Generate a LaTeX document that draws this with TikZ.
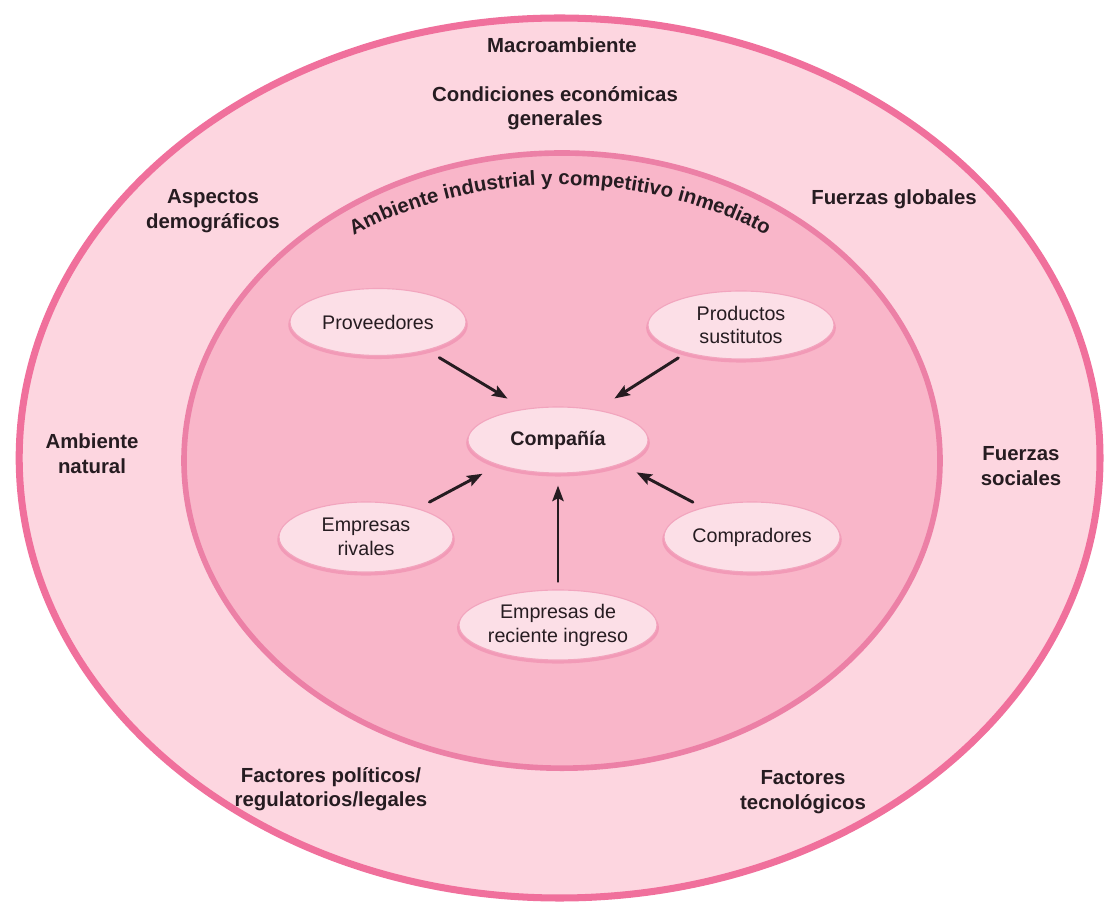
\documentclass[tikz,border=0pt]{standalone}
\usepackage{fontspec}
\setmainfont{Liberation Sans}
\usepackage{tikz}
\usetikzlibrary{arrows.meta,shapes.geometric,decorations.text,shadows}
\definecolor{macrofill}{RGB}{253,214,224}
\definecolor{macroline}{RGB}{240,112,156}
\definecolor{indfill}{RGB}{249,182,201}
\definecolor{indline}{RGB}{236,128,166}
\definecolor{bubfill}{RGB}{252,223,231}
\definecolor{bubline}{RGB}{242,165,190}
\definecolor{ink}{RGB}{38,28,33}
\tikzset{
  every picture/.style={line join=round, line cap=round, >=Stealth},
  lbl/.style={font=\fontsize{14.5}{17.5}\selectfont\bfseries, text=ink, align=center, inner sep=0pt},
  force/.style={ellipse, fill=bubfill, draw=bubline, line width=0.8pt, font=\fontsize{14}{17}\selectfont, text=ink, align=center, inner sep=0pt,
    drop shadow={shadow scale=1.02, shadow xshift=0pt, shadow yshift=-2pt, fill=indline, opacity=0.5}},
  push/.style={-{Stealth[length=11pt,width=8pt,inset=2pt]}, line width=2.1pt, draw=ink},
}

\begin{document}
\begin{tikzpicture}
\useasboundingbox (0,0) rectangle (27.65,22.825);
% macroambiente
\draw[fill=macrofill, draw=macroline, line width=5pt] (13.99,11.375) ellipse (13.51 and 11.0);
\node[lbl] (macro) at (14.05,21.7) {Macroambiente};
\node[lbl] (econ) at (13.875,20.125) {Condiciones económicas\\generales};
\node[lbl] (demo) at (5.325,17.55) {Aspectos\\demográficos};
\node[lbl] (glob) at (22.35,17.85) {Fuerzas globales};
\node[lbl] (natur) at (2.3,11.475) {Ambiente\\natural};
\node[lbl] (soc) at (25.525,11.175) {Fuerzas\\sociales};
\node[lbl] (pol) at (8.275,3.1) {Factores políticos/\\regulatorios/legales};
\node[lbl] (tec) at (20.075,3.025) {Factores\\tecnológicos};
% ambiente industrial
\draw[fill=indfill, draw=indline, line width=4pt] (14.05,11.31) ellipse (9.45 and 7.69);
\path[decorate, decoration={text along path, text align=center, text color=ink,
  text={|\fontsize{14.5}{17.5}\selectfont\bfseries|Ambiente industrial y competitivo inmediato}}]
  (14.0,11.3) ++(142:8.95 and 6.9) arc[start angle=142, end angle=38, x radius=8.95, y radius=6.9];
% fuerzas
\node[force, minimum width=4.4cm, minimum height=1.675cm] (prov) at (9.45,14.775) {Proveedores};
\node[force, minimum width=4.65cm, minimum height=1.7cm] (sust) at (18.525,14.7) {Productos\\sustitutos};
\node[force, minimum width=4.5cm, minimum height=1.65cm, font=\fontsize{14}{17}\selectfont\bfseries] (comp) at (13.95,11.825) {Compañía};
\node[force, minimum width=4.35cm, minimum height=1.75cm] (rival) at (9.15,9.4) {Empresas\\rivales};
\node[force, minimum width=4.4cm, minimum height=1.75cm] (buyer) at (18.8,9.4) {Compradores};
\node[force, minimum width=4.55cm, minimum height=1.75cm] (entry) at (13.95,7.2) {Empresas de\\reciente ingreso};
\draw[push, shorten <=0.355cm, shorten >=0.495cm] (prov.330) -- (comp.137);
\draw[push, shorten <=0.23cm, shorten >=0.52cm] (sust.207) -- (comp.38);
\draw[push, shorten <=0.33cm, shorten >=0.45cm] (rival.29) -- (comp.203);
\draw[push, shorten <=0.28cm, shorten >=0.44cm] (buyer.149) -- (comp.339);
\draw[push, shorten <=0.2cm, shorten >=0.3cm] (entry.north) -- (comp.south);
\end{tikzpicture}
\end{document}
